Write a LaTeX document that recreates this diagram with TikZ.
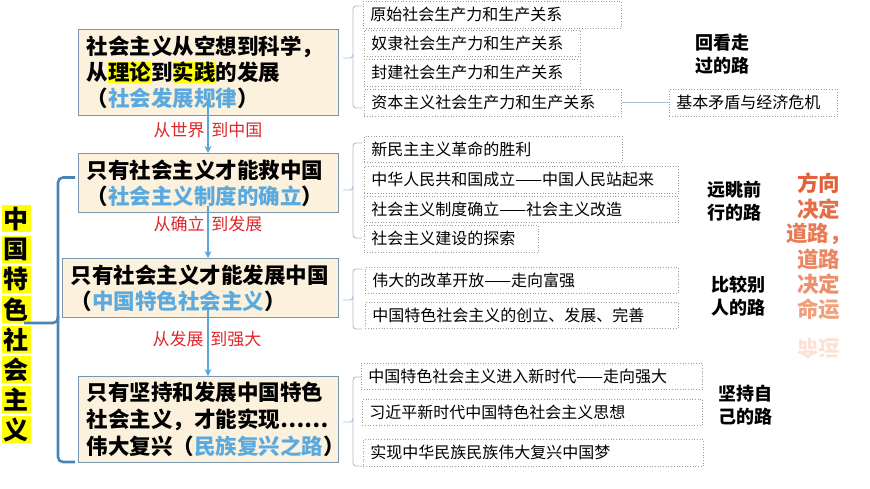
\documentclass[tikz,border=0pt]{standalone}
\usepackage{fontspec}
\setmainfont{Noto Sans CJK SC}
\usetikzlibrary{arrows.meta}
\definecolor{boxfill}{HTML}{FCF1DC}
\definecolor{boxline}{HTML}{7A95AE}
\definecolor{arrblue}{HTML}{5AA6DA}
\definecolor{txtblue}{HTML}{5AAAE0}
\definecolor{lblred}{HTML}{E0262B}
\definecolor{bigbrace}{HTML}{4A84B5}
\definecolor{smallbrace}{HTML}{A9BFCF}
\definecolor{dotline}{HTML}{9C9C9C}
\definecolor{hlyellow}{HTML}{FFFF00}
\definecolor{orA}{HTML}{E2613A}
\definecolor{orB}{HTML}{F2A07C}
\setlength{\fboxsep}{0pt}
\newcommand{\hlt}[1]{\colorbox{hlyellow}{#1}}
\newcommand{\bt}[1]{\textcolor{txtblue}{#1}}
\begin{document}
\begin{tikzpicture}[x=1pt,y=-1pt,
  mainbox/.style={draw=boxline, line width=1.2pt, fill=boxfill, anchor=north west, inner xsep=8pt, inner ysep=0pt, align=left, font=\bfseries\fontsize{21.5}{26}\selectfont},
  rbox/.style={draw=dotline, dotted, line width=0.7pt, anchor=north west, inner xsep=7pt, inner ysep=0pt, align=left, font=\fontsize{16}{16}\selectfont},
  flowlbl/.style={text=lblred, font=\fontsize{17}{17}\selectfont, inner sep=0pt},
  roadlbl/.style={font=\bfseries\fontsize{18}{22.5}\selectfont, align=center, inner sep=0pt},
  motto/.style={font=\bfseries\fontsize{21.5}{21.5}\selectfont, inner sep=0pt},
  vchar/.style={fill=hlyellow, font=\bfseries\fontsize{25}{25}\selectfont, minimum width=29pt, minimum height=27pt, inner sep=0pt},
  flowarr/.style={draw=arrblue, line width=1.4pt, -{Stealth[length=7pt,width=7pt]}},
  bigbr/.style={draw=bigbrace, line width=2.6pt, rounded corners=5pt},
  smallbr/.style={draw=smallbrace, line width=0.9pt, rounded corners=3pt}
]
\path[use as bounding box] (0,0) rectangle (870,489);

% main boxes
\node[mainbox, text width=244pt, minimum height=86pt] (b1) at (78,29) {社会主义从空想到科学，\\从\hlt{理论}到\hlt{实践}的发展\\（\bt{社会发展规律}）};
\node[mainbox, text width=244pt, minimum height=59pt] (b2) at (78,153) {只有社会主义才能救中国\\（\bt{社会主义制度的确立}）};
\node[mainbox, text width=260pt, minimum height=59pt] (b3) at (62,258) {只有社会主义才能发展中国\\（\bt{中国特色社会主义}）};
\node[mainbox, text width=244pt, minimum height=86pt, font=\bfseries\fontsize{21.5}{27}\selectfont] (b4) at (78,376) {只有坚持和发展中国特色\\社会主义，才能实现……\\伟大复兴（\bt{民族复兴之路}）};

% flow arrows
\coordinate (a1) at (208,103);
\coordinate (a2) at (208,206);
\coordinate (a3) at (208,307);
\draw[flowarr] (a1) -- (a1 |- b2.north);
\draw[flowarr] (a2) -- (a2 |- b3.north);
\draw[flowarr] (a3) -- (a3 |- b4.north);
\node[flowlbl] (l1) at (208,130) {从世界\hspace{7pt}到中国};
\node[flowlbl] (l2) at (208,224) {从确立\hspace{7pt}到发展};
\node[flowlbl] (l3) at (207,339) {从发展\hspace{7pt}到强大};

% left vertical title
\foreach \c [count=\i from 0] in {中,国,特,色,社,会,主,义}
  \node[vchar] (v\i) at (16,219+30.1*\i) {\c};

% big brace
\coordinate (lbt) at (75,177.5);
\coordinate (lbm) at (24,323);
\coordinate (lbb) at (75,462);
\draw[bigbr] (lbt) -- (58,177.5) -- (58,323) -- (lbm);
\draw[bigbr] (58,316) -- (58,462) -- (lbb);

% small braces
\foreach \t/\b/\m in {6/108/58, 143/238/190, 269/329/300, 377/466/422} {
  \draw[smallbr] (362,\t) -- (353,\t) -- (353,\m) -- (343,\m);
  \draw[smallbr] (353,\m-4) -- (353,\b) -- (362,\b);
}

% right boxes
\node[rbox, text width=244pt, minimum height=27pt] (g1a) at (363,1) {原始社会生产力和生产关系};
\node[rbox, text width=202pt, minimum height=26pt] (g1b) at (364,30) {奴隶社会生产力和生产关系};
\node[rbox, text width=202pt, minimum height=27pt] (g1c) at (364,59) {封建社会生产力和生产关系};
\node[rbox, text width=243pt, minimum height=27pt] (g1d) at (364,89) {资本主义社会生产力和生产关系};
\node[rbox, text width=154pt, minimum height=27pt] (g1e) at (669,89) {基本矛盾与经济危机};
\draw[smallbr] (g1d.east) -- (g1e.west);

\node[rbox, text width=244pt, minimum height=26pt] (g2a) at (364,136) {新民主主义革命的胜利};
\node[rbox, text width=300pt, minimum height=27pt] (g2b) at (364,166) {中华人民共和国成立——中国人民站起来};
\node[rbox, text width=300pt, minimum height=26pt] (g2c) at (364,196) {社会主义制度确立——社会主义改造};
\node[rbox, text width=160pt, minimum height=27pt] (g2d) at (364,225) {社会主义建设的探索};

\node[rbox, text width=299pt, minimum height=26pt] (g3a) at (365,267) {伟大的改革开放——走向富强};
\node[rbox, text width=299pt, minimum height=26pt] (g3b) at (365,302) {中国特色社会主义的创立、发展、完善};

\node[rbox, text width=327pt, minimum height=26pt] (g4a) at (361,363) {中国特色社会主义进入新时代——走向强大};
\node[rbox, text width=326pt, minimum height=26pt] (g4b) at (362,399) {习近平新时代中国特色社会主义思想};
\node[rbox, text width=326pt, minimum height=27pt] (g4c) at (363,439) {实现中华民族民族伟大复兴中国梦};

% road labels
\node[roadlbl] (r1) at (722,54) {回看走\\过的路};
\node[roadlbl] (r2) at (734,201) {远眺前\\行的路};
\node[roadlbl] (r3) at (738,296) {比较别\\人的路};
\node[roadlbl] (r4) at (745,405) {坚持自\\己的路};

% motto
\node[motto, text=orA] (m1) at (818.5,183) {方向};
\node[motto, text=orA!80!orB] (m2) at (818.5,209) {决定};
\node[motto, text=orA!60!orB] (m3) at (818.5,234) {道路，};
\node[motto, text=orA!40!orB] (m4) at (818.5,259) {道路};
\node[motto, text=orA!25!orB] (m5) at (818.5,284) {决定};
\node[motto, text=orB] (m6) at (818.5,309) {命运};
\node[motto, text=orB, opacity=0.3, yscale=-1, transform shape] (m7) at (818.5,349) {命运};
\end{tikzpicture}
\end{document}
